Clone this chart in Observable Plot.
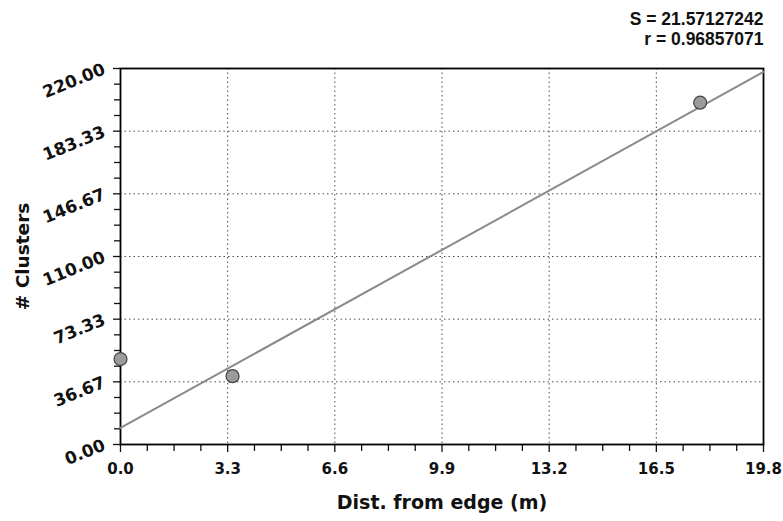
<!DOCTYPE html>
<html>
<head>
<meta charset="utf-8">
<script src="https://cdn.jsdelivr.net/npm/d3@7"></script>
<script src="https://cdn.jsdelivr.net/npm/@observablehq/plot@0.6"></script>
<style>
  html, body { margin: 0; padding: 0; background: #fff; }
  svg { display: block; }
</style>
</head>
<body>
<div id="chart"></div>
<script>
// Data
const distances = [0.0, 3.45, 17.85];
const clusters = [50, 40, 200];
const fitX = [0, 19.8];
const fitY = [9.7, 218];
const xTicks = [0.0, 3.3, 6.6, 9.9, 13.2, 16.5, 19.8];
const yTicks = [0.00, 36.67, 73.33, 110.00, 146.67, 183.33, 220.00];
const statLines = ["S = 21.57127242", "r = 0.96857071"];
const xTitle = "Dist. from edge (m)";
const yTitle = "# Clusters";

const points = distances.map((d, i) => ({x: d, y: clusters[i]}));
const fit = fitX.map((d, i) => ({x: d, y: fitY[i]}));

const minorX = [];
for (let i = 0; i < xTicks.length - 1; i++)
  for (let k = 1; k < 4; k++) minorX.push(xTicks[i] + (xTicks[i + 1] - xTicks[i]) * k / 4);
const minorY = [];
for (let i = 0; i < yTicks.length - 1; i++)
  for (let k = 1; k < 4; k++) minorY.push(yTicks[i] + (yTicks[i + 1] - yTicks[i]) * k / 4);

const wide = "'DejaVu Sans', Verdana, sans-serif";
const narrow = "'Liberation Sans', Arial, sans-serif";

const chart = Plot.plot({
  width: 783,
  height: 521,
  marginLeft: 120,
  marginRight: 20,
  marginTop: 68,
  marginBottom: 77,
  style: {fontFamily: wide, color: "#111", background: "#fff"},
  x: {domain: [0, 19.8]},
  y: {domain: [0, 220]},
  marks: [
    Plot.gridX(xTicks.slice(1, -1), {stroke: "#000", strokeOpacity: 0.7, strokeDasharray: "1.5,3"}),
    Plot.gridY(yTicks.slice(1, -1), {stroke: "#000", strokeOpacity: 0.7, strokeDasharray: "1.5,3"}),
    Plot.axisX(minorX, {tickSize: 7, tickFormat: () => "", stroke: "#111", strokeWidth: 1.3, label: null}),
    Plot.axisY(minorY, {tickSize: 6, tickFormat: () => "", stroke: "#111", strokeWidth: 1.3, label: null}),
    Plot.axisX(xTicks, {
      tickSize: 8, tickPadding: 11, tickFormat: d => d.toFixed(1),
      fontSize: 15, fontWeight: "bold", fontFamily: wide, stroke: "#111", strokeWidth: 1.3, label: null
    }),
    Plot.axisY(yTicks, {
      tickSize: 7, tickPadding: 9, tickFormat: d => d.toFixed(2), tickRotate: -22,
      fontSize: 17, fontWeight: "bold", fontFamily: wide, stroke: "#111", strokeWidth: 1.3, label: null
    }),
    Plot.frame({stroke: "#000", strokeWidth: 1.8}),
    Plot.line(fit, {x: "x", y: "y", stroke: "#8a8a8a", strokeWidth: 2}),
    Plot.dot(points, {x: "x", y: "y", r: 6.5, fill: "#9a9a9a", stroke: "#444", strokeWidth: 1.2}),
    Plot.text([xTitle], {frameAnchor: "bottom", lineAnchor: "middle", dy: 58, text: d => d, fontSize: 19, fontWeight: "bold", fontFamily: wide, fill: "#111"}),
    Plot.text([yTitle], {frameAnchor: "left", lineAnchor: "middle", textAnchor: "middle", dx: -97, rotate: -90, text: d => d, fontSize: 18.5, fontWeight: "bold", fontFamily: wide, fill: "#111"}),
    Plot.text([statLines[0]], {frameAnchor: "top-right", lineAnchor: "middle", dx: 0, dy: -49.5, textAnchor: "end", text: d => d, fontSize: 17.5, fontWeight: "bold", fontFamily: narrow, fill: "#111"}),
    Plot.text([statLines[1]], {frameAnchor: "top-right", lineAnchor: "middle", dx: 0, dy: -29.5, textAnchor: "end", text: d => d, fontSize: 17.5, fontWeight: "bold", fontFamily: narrow, fill: "#111"})
  ]
});
document.getElementById("chart").appendChild(chart);
</script>
</body>
</html>
